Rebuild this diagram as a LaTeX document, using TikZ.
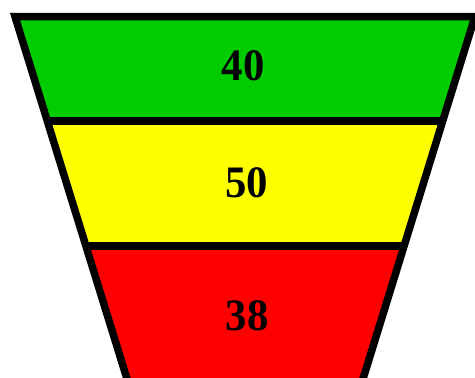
\documentclass[tikz,border=0pt]{standalone}
\usepackage{fontspec}
\setmainfont{Liberation Serif}
\definecolor{fgreen}{RGB}{0,204,0}
\definecolor{fyellow}{RGB}{255,255,0}
\definecolor{fred}{RGB}{255,0,0}
\newcommand{\funnum}[1]{\scalebox{0.95}[1]{#1}}
\begin{document}
\begin{tikzpicture}[x=1pt,y=-1pt,
  edge/.style={draw=black,line width=7.5pt,line join=miter},
  num/.style={font=\fontsize{45}{45}\selectfont\bfseries,inner sep=0pt}]
\useasboundingbox (0,0) rectangle (475,378);
\clip (0,0) rectangle (475,378);
\coordinate (tl) at (15,16.5);
\coordinate (tr) at (475,16.5);
\coordinate (al) at (47.3,121);
\coordinate (ar) at (442.7,121);
\coordinate (bl) at (85.9,246);
\coordinate (br) at (404.1,246);
\coordinate (el) at (139.7,420);
\coordinate (er) at (350.3,420);
\fill[fgreen] (tl) -- (tr) -- (ar) -- (al) -- cycle;
\fill[fyellow] (al) -- (ar) -- (br) -- (bl) -- cycle;
\fill[fred] (bl) -- (br) -- (er) -- (el) -- cycle;
\draw[edge] (el) -- (tl) -- (tr) -- (er);
\draw[edge] (al) -- (ar);
\draw[edge] (bl) -- (br);
\node[num] (n40) at (243,65.5) {\funnum{40}};
\node[num] (n50) at (246.5,183) {\funnum{50}};
\node[num] (n38) at (247,315.3) {\funnum{38}};
\end{tikzpicture}
\end{document}
